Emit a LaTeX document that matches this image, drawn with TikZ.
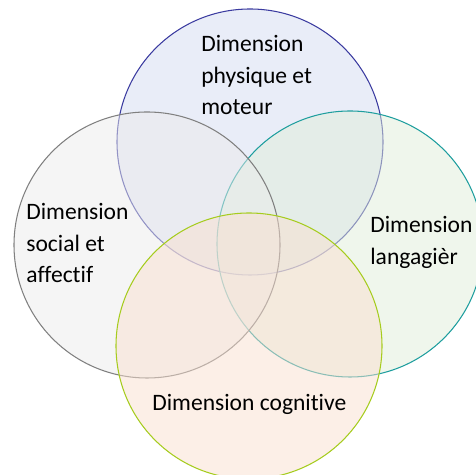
\documentclass[tikz,border=0pt]{standalone}
\usepackage{fontspec}
\setmainfont{Carlito}[Ligatures=NoCommon]
\usepackage{xcolor}
\usepackage{tikz}
\definecolor{physfill}{HTML}{D3DBF1}
\definecolor{physline}{HTML}{3B3BA0}
\definecolor{socfill}{HTML}{EBEBEB}
\definecolor{socline}{HTML}{808080}
\definecolor{langfill}{HTML}{DFEDD9}
\definecolor{langline}{HTML}{1E9E9E}
\definecolor{cogfill}{HTML}{F9DFCF}
\definecolor{cogline}{HTML}{A6CC1E}
\tikzset{
    venn/.style = {circle, minimum size=5.32cm, inner sep=0pt, fill opacity=0.5, line width=0.6pt},
    phys_circle/.style = {venn, draw=physline, fill=physfill},
    soc_circle/.style = {venn, draw=socline, fill=socfill},
    lang_circle/.style = {venn, draw=langline, fill=langfill},
    cog_circle/.style = {venn, draw=cogline, fill=cogfill},
    dimtext/.style = {align=left, anchor=west, inner sep=0pt, text=black,
        font=\fontsize{13.4}{18.2}\selectfont}
}
\begin{document}
\begin{tikzpicture}
    \useasboundingbox (0,0) rectangle (9.52,9.50);

    % the four circles
    \node [phys_circle] (phys) at (5.00,6.66) {};
    \node [lang_circle] (lang) at (7.00,4.62) {};
    \node [soc_circle]  (soc)  at (2.94,4.60) {};
    \node [cog_circle]  (cog)  at (4.98,2.58) {};

    % labels
    \node [dimtext] (physlabel) at (4.02,8.00) {Dimension\\physique et\\moteur};
    \node [dimtext] (soclabel)  at (0.52,4.64) {Dimension\\social et\\affectif};
    \node [dimtext] (langlabel) at (7.40,4.65) {Dimension\\langagièr};
    \node [dimtext] (coglabel)  at (3.04,1.42) {Dimension cognitive};
\end{tikzpicture}
\end{document}
